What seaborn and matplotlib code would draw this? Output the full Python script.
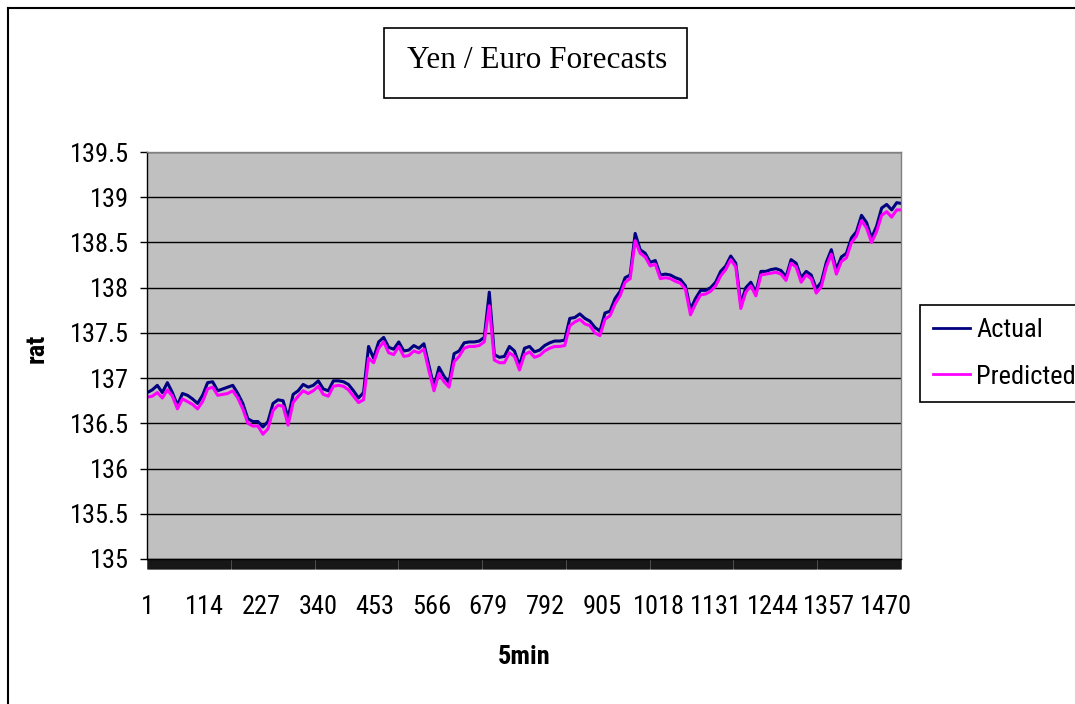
import numpy as np
import pandas as pd
import matplotlib
matplotlib.use("Agg")
import matplotlib.pyplot as plt
from matplotlib import font_manager
from matplotlib.lines import Line2D
from matplotlib.patches import Rectangle
import seaborn as sns

# Yen / Euro rate, one value every 10 five-minute periods
actual = [
    136.84, 136.87, 136.92, 136.84, 136.95, 136.84, 136.70, 136.83, 136.81, 136.77,
    136.72, 136.81, 136.95, 136.96, 136.86, 136.88, 136.90, 136.92, 136.83, 136.72,
    136.55, 136.52, 136.52, 136.46, 136.52, 136.72, 136.76, 136.75, 136.56, 136.82,
    136.86, 136.93, 136.90, 136.92, 136.97, 136.88, 136.86, 136.97, 136.97, 136.96,
    136.93, 136.86, 136.78, 136.84, 137.35, 137.22, 137.40, 137.45, 137.34, 137.32,
    137.40, 137.30, 137.31, 137.36, 137.33, 137.38, 137.14, 136.90, 137.12, 137.02,
    136.95, 137.27, 137.30, 137.39, 137.40, 137.40, 137.41, 137.45, 137.95, 137.26,
    137.23, 137.24, 137.35, 137.30, 137.14, 137.33, 137.35, 137.29, 137.31, 137.36,
    137.39, 137.41, 137.41, 137.42, 137.66, 137.67, 137.71, 137.66, 137.63, 137.56,
    137.52, 137.72, 137.74, 137.88, 137.96, 138.11, 138.14, 138.60, 138.42, 138.38,
    138.28, 138.30, 138.14, 138.15, 138.14, 138.11, 138.09, 138.02, 137.76, 137.88,
    137.97, 137.97, 138.00, 138.06, 138.18, 138.24, 138.35, 138.27, 137.82, 138.00,
    138.06, 137.95, 138.18, 138.18, 138.20, 138.21, 138.19, 138.12, 138.31, 138.27,
    138.11, 138.18, 138.14, 137.99, 138.06, 138.28, 138.42, 138.20, 138.34, 138.38,
    138.55, 138.62, 138.80, 138.72, 138.55, 138.68, 138.88, 138.92, 138.86, 138.94,
    138.93,
]
predicted = [
    136.79, 136.80, 136.84, 136.78, 136.87, 136.80, 136.66, 136.77, 136.74, 136.71,
    136.66, 136.74, 136.88, 136.90, 136.81, 136.82, 136.83, 136.86, 136.78, 136.66,
    136.50, 136.47, 136.47, 136.38, 136.44, 136.64, 136.70, 136.69, 136.48, 136.73,
    136.80, 136.86, 136.83, 136.86, 136.91, 136.82, 136.80, 136.91, 136.92, 136.91,
    136.87, 136.80, 136.73, 136.76, 137.22, 137.17, 137.33, 137.40, 137.28, 137.26,
    137.35, 137.24, 137.25, 137.30, 137.28, 137.32, 137.08, 136.86, 137.05, 136.96,
    136.90, 137.18, 137.24, 137.33, 137.35, 137.35, 137.36, 137.40, 137.80, 137.20,
    137.17, 137.17, 137.28, 137.24, 137.09, 137.26, 137.29, 137.23, 137.25, 137.30,
    137.33, 137.35, 137.35, 137.36, 137.58, 137.62, 137.65, 137.60, 137.58, 137.50,
    137.47, 137.65, 137.69, 137.82, 137.91, 138.06, 138.10, 138.52, 138.38, 138.34,
    138.24, 138.26, 138.10, 138.11, 138.10, 138.07, 138.05, 137.98, 137.70, 137.82,
    137.92, 137.93, 137.96, 138.02, 138.13, 138.20, 138.31, 138.23, 137.77, 137.95,
    138.02, 137.91, 138.14, 138.15, 138.16, 138.17, 138.15, 138.08, 138.27, 138.23,
    138.06, 138.14, 138.10, 137.94, 138.01, 138.23, 138.37, 138.15, 138.29, 138.33,
    138.50, 138.57, 138.74, 138.66, 138.50, 138.62, 138.80, 138.84, 138.78, 138.86,
    138.86,
]
series_names = ["Actual", "Predicted"]
series_colors = ["#000080", "#FF00FF"]
x_tick_values = [1, 114, 227, 340, 453, 566, 679, 792, 905, 1018, 1131, 1244, 1357, 1470]
y_tick_values = [135, 135.5, 136, 136.5, 137, 137.5, 138, 138.5, 139, 139.5]
n_periods = 1499

period = np.arange(1, 10 * len(actual), 10)
df = pd.DataFrame({
    "5min": np.concatenate([period, period]),
    "rat": actual + predicted,
    "series": [series_names[0]] * len(actual) + [series_names[1]] * len(predicted),
})

# prefer a narrow sans face when one is available
installed = {f.name for f in font_manager.fontManager.ttflist}
narrow = [n for n in ("Liberation Sans Narrow", "Arial Narrow", "Roboto Condensed",
                      "DejaVu Sans Condensed") if n in installed]
if narrow:
    sans, base = narrow[0], 19
else:
    sans, base = "Liberation Sans", 16.5
plt.rcParams["font.family"] = [sans, "DejaVu Sans"]

W, H = 1075, 704
fig = plt.figure(figsize=(W / 100, H / 100), dpi=100)
fig.patch.set_facecolor("white")

ax = fig.add_axes([147 / W, 1 - 559 / H, (901 - 147) / W, (559 - 152) / H])
ax.set_facecolor("#C0C0C0")

sns.lineplot(
    data=df, x="5min", y="rat", hue="series", hue_order=series_names,
    palette=dict(zip(series_names, series_colors)), estimator=None,
    linewidth=2.2, legend=False, ax=ax,
)

ax.set_xlim(0.5, n_periods + 0.5)
ax.set_ylim(y_tick_values[0], y_tick_values[-1])

ax.set_yticks(y_tick_values)
ax.set_yticklabels([f"{v:g}" for v in y_tick_values])
ax.yaxis.grid(True, color="black", linewidth=1.0)
ax.xaxis.grid(False)
ax.set_axisbelow(True)

ax.set_xticks(x_tick_values)
ax.set_xticklabels([str(v) for v in x_tick_values])
ax.set_xticks(np.arange(0.5, n_periods + 1, 1.0), minor=True)
ax.tick_params(axis="x", which="major", length=0, pad=26, labelsize=base)
ax.tick_params(axis="x", which="minor", length=7.2, width=0.5, color="black", direction="out")
ax.tick_params(axis="y", which="major", length=5, width=1, color="black", pad=8, labelsize=base)

for side in ("left", "bottom"):
    ax.spines[side].set_color("black")
    ax.spines[side].set_linewidth(1.0)
for side in ("top", "right"):
    ax.spines[side].set_color("#808080")
    ax.spines[side].set_linewidth(1.0)

ax.set_xlabel("")
ax.set_ylabel("")
fig.text(37 / W, 1 - 348 / H, "rat", rotation=90, fontsize=base, fontweight="bold",
         ha="center", va="center")
fig.text(524 / W, 1 - 657 / H, "5min", fontsize=base, fontweight="bold",
         ha="center", va="center")

# chart title in its own framed box
fig.add_artist(Rectangle((384 / W, 1 - 98 / H), (687 - 384) / W, 70 / H,
                         transform=fig.transFigure, facecolor="white",
                         edgecolor="black", linewidth=1.2))
fig.text(537 / W, 1 - 60 / H, "Yen / Euro Forecasts", fontsize=22.5,
         family=["Liberation Serif", "DejaVu Serif"], ha="center", va="center")

# outer chart border
fig.add_artist(Line2D([8 / W, 8 / W], [0, 1 - 8 / H], transform=fig.transFigure,
                      color="black", linewidth=1.5))
fig.add_artist(Line2D([8 / W, 1], [1 - 8 / H, 1 - 8 / H], transform=fig.transFigure,
                      color="black", linewidth=1.5))

handles = [Line2D([], [], color=c, linewidth=2.0) for c in series_colors]
leg = fig.legend(handles, series_names, loc="upper left",
                 bbox_to_anchor=(920 / W, 1 - 305 / H), frameon=True, fancybox=False,
                 edgecolor="black", framealpha=1, fontsize=base, handlelength=1.4,
                 handletextpad=0.22, borderpad=0.5, labelspacing=0.85, borderaxespad=0)
leg.get_frame().set_linewidth(1.2)

fig.savefig("out.png", dpi=100)
